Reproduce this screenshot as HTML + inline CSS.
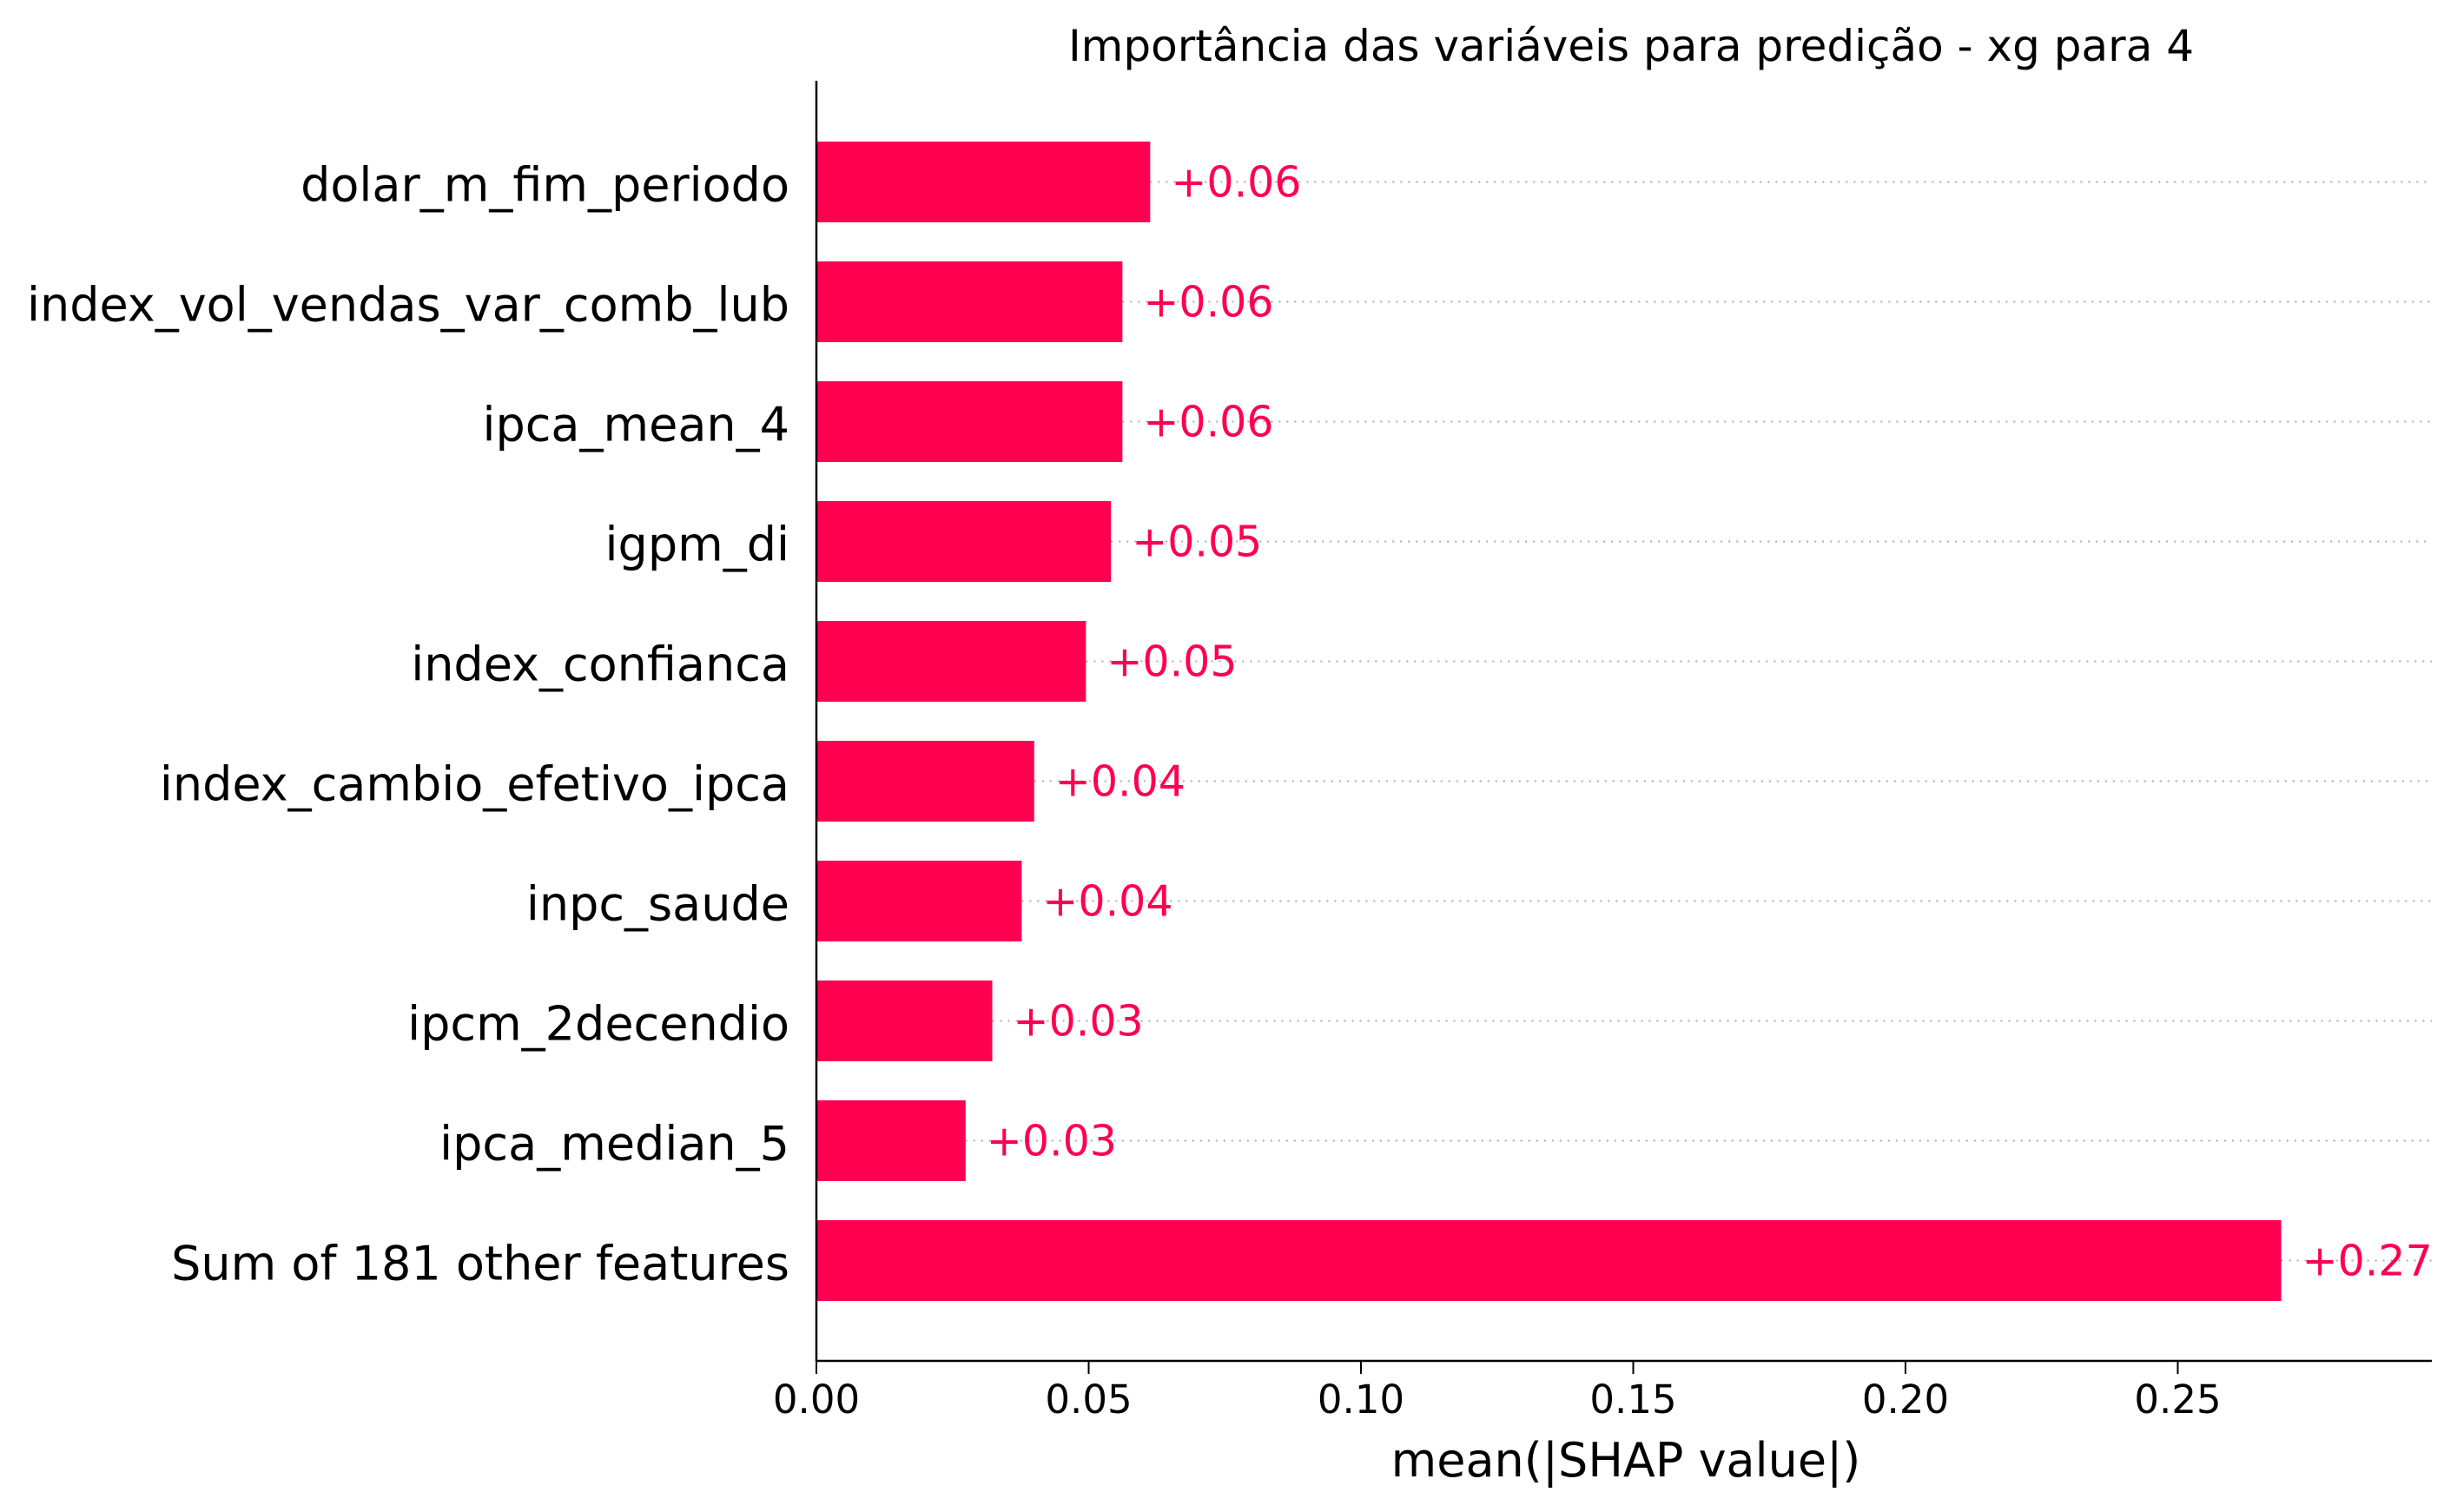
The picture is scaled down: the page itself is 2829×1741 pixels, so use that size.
<!DOCTYPE html>
<html><head><meta charset="utf-8"><style>
html,body{margin:0;padding:0;background:#fff}
svg{display:block;font-family:"DejaVu Sans","Liberation Sans",sans-serif}
</style></head><body>
<svg id="chart" width="2829" height="1741" viewBox="0 0 2829 1741">
<text x="1878" y="70" font-size="50" text-anchor="middle">Importância das variáveis para predição - xg para 4</text>
<g id="plot"></g>
</svg>
<script>
const features = ["dolar_m_fim_periodo","index_vol_vendas_var_comb_lub","ipca_mean_4","igpm_di","index_confianca","index_cambio_efetivo_ipca","inpc_saude","ipcm_2decendio","ipca_median_5","Sum of 181 other features"];
const values = [0.0613,0.0562,0.0562,0.0541,0.0495,0.0400,0.0377,0.0323,0.0274,0.269];
const valueLabels = ["+0.06","+0.06","+0.06","+0.05","+0.05","+0.04","+0.04","+0.03","+0.03","+0.27"];
const ticks = [0,0.05,0.10,0.15,0.20,0.25];
const tickLabels = ["0.00","0.05","0.10","0.15","0.20","0.25"];

const NS="http://www.w3.org/2000/svg";
const g=document.getElementById('plot');
const x0=940, pxPerUnit=6270, xEnd=2800, axisTop=93, axisY=1567;
const yTop=209.5, step=138, barH=93;
const xs=v=>x0+v*pxPerUnit;
const ys=i=>yTop+i*step;
function mk(tag,attrs){const e=document.createElementNS(NS,tag);for(const k in attrs)e.setAttribute(k,attrs[k]);g.appendChild(e);return e;}

features.forEach((f,i)=>{
  const cy=ys(i), xe=xs(values[i]);
  const line=mk('line',{x1:xe,x2:xEnd,y1:cy,y2:cy,stroke:'#aaa','stroke-width':2,'stroke-dasharray':'2,7'});
  
  
  const r=mk('rect',{x:x0,y:cy-barH/2,width:xe-x0,height:barH,fill:'#ff0051'});
  
  
  const vt=mk('text',{x:xe+24,y:cy+17,'font-size':49,fill:'#ff0051'});
  vt.textContent=valueLabels[i];
  
  
  const lt=mk('text',{x:909,y:cy+22,'font-size':54,'text-anchor':'end',fill:'#000'});
  lt.textContent=f;
  
  
});
const ya=mk('line',{x1:x0,x2:x0,y1:axisTop,y2:axisY,stroke:'#000','stroke-width':2.5});


const xa=mk('line',{x1:x0-1,x2:xEnd,y1:axisY,y2:axisY,stroke:'#000','stroke-width':2.5});


ticks.forEach((t,i)=>{
  const x=xs(t);
  const tk=mk('line',{x1:x,x2:x,y1:axisY,y2:axisY+15,stroke:'#000','stroke-width':2});
  
  
  const tl=mk('text',{x:x,y:1627,'font-size':45,'text-anchor':'middle'});
  tl.textContent=tickLabels[i];
  
  
});
const xt=mk('text',{x:1872,y:1700,'font-size':54,'text-anchor':'middle'});
xt.textContent='mean(|SHAP value|)';


</script>
</body></html>
